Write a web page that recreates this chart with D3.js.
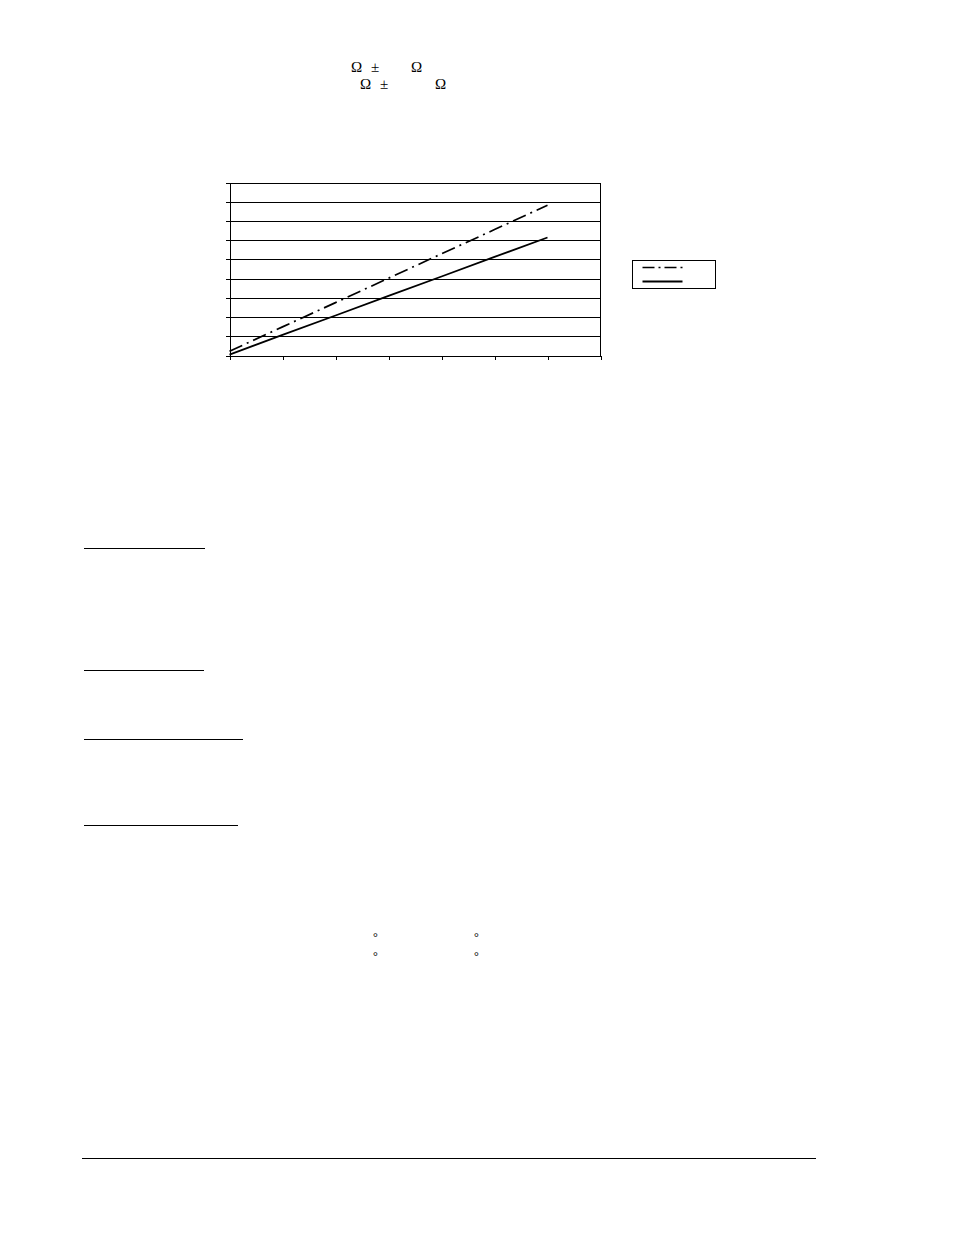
<!DOCTYPE html>
<html>
<head>
<meta charset="utf-8">
<script src="https://cdn.jsdelivr.net/npm/d3@7.9.0/dist/d3.min.js"></script>
<style>
  html, body { margin: 0; padding: 0; background: #fff; }
  svg { display: block; }
  .axis path, .axis line { stroke: #000; shape-rendering: crispEdges; }
  .grid line { stroke: #000; shape-rendering: crispEdges; }
  .grid path { display: none; }
</style>
</head>
<body>
<div id="page"></div>
<script>
// chart values (axis units, no labels visible)
const xTicks = [0, 1, 2, 3, 4, 5, 6, 7];
const yTicks = [0, 1, 2, 3, 4, 5, 6, 7, 8, 9];
const seriesX = [0, 1, 2, 3, 4, 5, 6];
const dashDotValues = [0.22, 1.49, 2.75, 4.02, 5.29, 6.55, 7.82];
const solidValues = [0.05, 1.07, 2.08, 3.10, 4.11, 5.13, 6.14];
const seriesNames = ["", ""];

// visible glyphs of the surrounding page text
const headerGlyphs = [
  { t: "\u03A9", x: 351, y: 72 }, { t: "\u00B1", x: 371, y: 72 }, { t: "\u03A9", x: 411, y: 72 },
  { t: "\u03A9", x: 360, y: 89 }, { t: "\u00B1", x: 380, y: 89 }, { t: "\u03A9", x: 435, y: 89 }
];
const degreeGlyphs = [
  { x: 373, y: 941 }, { x: 474, y: 941 }, { x: 373, y: 960 }, { x: 474, y: 960 }
];
const underlines = [
  { x1: 84, x2: 205, y: 548.5 }, { x1: 84, x2: 204, y: 670.5 },
  { x1: 84, x2: 243, y: 739.5 }, { x1: 84, x2: 238, y: 825.5 }
];

const W = 954, H = 1235;
const svg = d3.select("#page").append("svg")
  .attr("width", W).attr("height", H)
  .attr("viewBox", `0 0 ${W} ${H}`);

svg.append("rect").attr("width", W).attr("height", H).attr("fill", "#fff");

// page text fragments
svg.append("g")
  .attr("font-family", "'Liberation Serif', 'DejaVu Serif', serif")
  .attr("font-size", 15)
  .selectAll("text")
  .data(headerGlyphs)
  .join("text")
  .attr("x", d => d.x).attr("y", d => d.y)
  .text(d => d.t);

svg.append("g")
  .attr("font-family", "'Liberation Serif', serif")
  .attr("font-size", 12)
  .selectAll("text")
  .data(degreeGlyphs)
  .join("text")
  .attr("x", d => d.x).attr("y", d => d.y)
  .text("\u00B0");

svg.append("g")
  .selectAll("line")
  .data(underlines)
  .join("line")
  .attr("x1", d => d.x1).attr("x2", d => d.x2)
  .attr("y1", d => d.y).attr("y2", d => d.y)
  .attr("stroke", "#000").attr("stroke-width", 1);

// footer rule
svg.append("line")
  .attr("x1", 82).attr("x2", 816)
  .attr("y1", 1158.5).attr("y2", 1158.5)
  .attr("stroke", "#000").attr("stroke-width", 1);

// --- chart ---
const plot = { left: 229.5, right: 600.5, top: 182.5, bottom: 355.5 };

const x = d3.scaleLinear().domain([0, 7]).range([plot.left, plot.right]);
const y = d3.scaleLinear().domain([0, 9]).range([plot.bottom, plot.top]);

// horizontal gridlines
svg.append("g")
  .attr("class", "grid")
  .attr("transform", `translate(${plot.left},0)`)
  .call(d3.axisLeft(y).tickValues(yTicks).tickFormat("").tickSize(-(plot.right - plot.left)));

// right border
svg.append("line")
  .attr("x1", plot.right).attr("x2", plot.right)
  .attr("y1", plot.top).attr("y2", plot.bottom)
  .attr("stroke", "#000").attr("shape-rendering", "crispEdges");

// axes
svg.append("g")
  .attr("class", "axis")
  .attr("transform", `translate(0,${plot.bottom})`)
  .call(d3.axisBottom(x).tickValues(xTicks).tickFormat("").tickSizeInner(4).tickSizeOuter(0));

svg.append("g")
  .attr("class", "axis")
  .attr("transform", `translate(${plot.left},0)`)
  .call(d3.axisLeft(y).tickValues(yTicks).tickFormat("").tickSizeInner(4).tickSizeOuter(0));

const line = d3.line().x(d => x(d[0])).y(d => y(d[1]));
const dashDot = "14,5,2,5";

svg.append("path")
  .datum(d3.zip(seriesX, dashDotValues))
  .attr("d", line)
  .attr("fill", "none").attr("stroke", "#000")
  .attr("stroke-width", 1.7)
  .attr("stroke-dasharray", dashDot);

svg.append("path")
  .datum(d3.zip(seriesX, solidValues))
  .attr("d", line)
  .attr("fill", "none").attr("stroke", "#000")
  .attr("stroke-width", 1.8);

// legend
const legend = svg.append("g").attr("transform", "translate(632.5,260.5)");
legend.append("rect")
  .attr("width", 83).attr("height", 28)
  .attr("fill", "#fff").attr("stroke", "#000");
const styles = [{ dash: "12,4,2,4", w: 1.6 }, { dash: null, w: 1.8 }];
legend.selectAll("line.key")
  .data(seriesNames)
  .join("line")
  .attr("class", "key")
  .attr("x1", 10).attr("x2", 50)
  .attr("y1", (d, i) => 7 + i * 14).attr("y2", (d, i) => 7 + i * 14)
  .attr("stroke", "#000")
  .attr("stroke-width", (d, i) => styles[i].w)
  .attr("stroke-dasharray", (d, i) => styles[i].dash);
legend.selectAll("text")
  .data(seriesNames)
  .join("text")
  .attr("x", 55).attr("y", (d, i) => 11 + i * 14)
  .attr("font-family", "'Liberation Serif', serif").attr("font-size", 11)
  .text(d => d);
</script>
</body>
</html>
